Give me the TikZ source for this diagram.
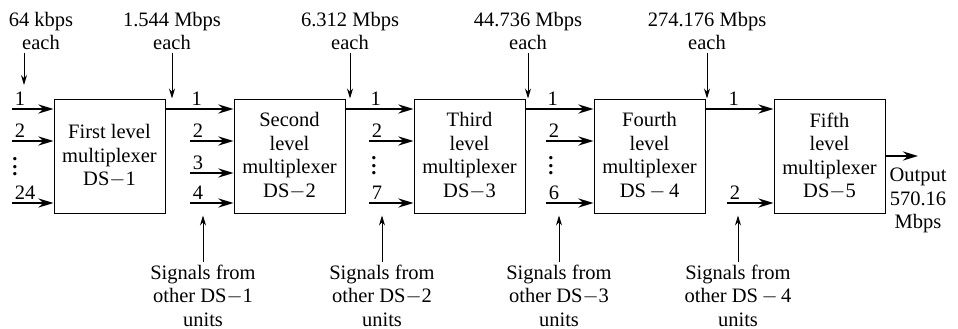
\documentclass[tikz,border=0pt]{standalone}
\usepackage{fontspec}
\setmainfont{Liberation Serif}
\usetikzlibrary{arrows.meta,positioning}
\newcommand{\stackdots}{\vbox{\baselineskip=7.5pt\lineskiplimit=0pt\hbox{.}\hbox{.}\hbox{.}}}

\begin{document}
\begin{tikzpicture}[
  x=1pt,y=-1pt,
  node distance=68pt,
  font=\fontsize{20.5}{23.5}\selectfont,
  mux/.style={draw,line width=1pt,minimum width=111pt,minimum height=114pt,align=center,inner sep=0pt},
  sig/.style={-{Stealth[length=15pt,width=9pt]},line width=2.9pt},
  ptr/.style={-{Stealth[length=10pt,width=6pt]},line width=0.9pt},
  note/.style={align=center,inner sep=0pt,outer sep=3pt},
  num/.style={anchor=base west,inner sep=0pt,xshift=1.5pt,yshift=3.5pt},
  dotcol/.style={inner sep=0pt,font=\bfseries\fontsize{20.5}{23.5}\selectfont}
]
\useasboundingbox (0,0) rectangle (958,329);
\node[mux] (mux1) at (109.5,156) {First level\\multiplexer\\DS$-$1};
\node[mux,right=of mux1] (mux2) {Second\\level\\multiplexer\\DS$-$2};
\node[mux,right=of mux2] (mux3) {Third\\level\\multiplexer\\DS$-$3};
\node[mux,right=of mux3] (mux4) {Fourth\\level\\multiplexer\\DS$\,-\,$4};
\node[mux,right=of mux4] (mux5) {Fifth\\level\\multiplexer\\DS$-$5};

\coordinate (a1) at (12,109); \coordinate (a2) at (12,141); \coordinate (a24) at (12,203);
\coordinate (b2) at (190,141); \coordinate (b3) at (190,173); \coordinate (b4) at (190,203);
\coordinate (c2) at (369,141); \coordinate (c7) at (369,203);
\coordinate (d2) at (546,141); \coordinate (d6) at (546,203);
\coordinate (e2) at (727,203);
\coordinate (out) at (918,156);
\coordinate (t0) at (24,85);

\draw[sig] (a1) node[num]{1} -- (a1 -| mux1.west);
\draw[sig] (a2) node[num]{2} -- (a2 -| mux1.west);
\draw[sig] (a24) node[num]{24} -- (a24 -| mux1.west);
\node[dotcol] (dots1) at (15,167) {\stackdots};

\draw[sig] (mux1.east |- a1) -- (mux2.west |- a1);
\node[num] at (b2 |- a1) {1};
\draw[sig] (b2) node[num]{2} -- (b2 -| mux2.west);
\draw[sig] (b3) node[num]{3} -- (b3 -| mux2.west);
\draw[sig] (b4) node[num]{4} -- (b4 -| mux2.west);

\draw[sig] (mux2.east |- a1) -- (mux3.west |- a1);
\node[num] at (c2 |- a1) {1};
\draw[sig] (c2) node[num]{2} -- (c2 -| mux3.west);
\draw[sig] (c7) node[num]{7} -- (c7 -| mux3.west);
\node[dotcol] (dots3) at (374,166) {\stackdots};

\draw[sig] (mux3.east |- a1) -- (mux4.west |- a1);
\node[num] at (d2 |- a1) {1};
\draw[sig] (d2) node[num]{2} -- (d2 -| mux4.west);
\draw[sig] (d6) node[num]{6} -- (d6 -| mux4.west);
\node[dotcol] (dots4) at (551,166) {\stackdots};

\draw[sig] (mux4.east |- a1) -- (mux5.west |- a1);
\node[num] at (e2 |- a1) {1};
\draw[sig] (e2) node[num]{2} -- (e2 -| mux5.west);

\draw[sig] (mux5.east) -- (out);
\node[note,anchor=north] (outlbl) at (918,165) {Output\\570.16\\Mbps};

\node[note] (r0) at (41,31) {64 kbps\\each};
\node[note] (r1) at (172,31) {1.544 Mbps\\each};
\node[note] (r2) at (350,31) {6.312 Mbps\\each};
\node[note] (r3) at (528,31) {44.736 Mbps\\each};
\node[note] (r4) at (707,31) {274.176 Mbps\\each};
\draw[ptr] (t0 |- r0.south) -- (t0);
\draw[ptr] (r1.south) -- (r1.south |- mux1.north);
\draw[ptr] (r2.south) -- (r2.south |- mux2.north);
\draw[ptr] (r3.south) -- (r3.south |- mux3.north);
\draw[ptr] (r4.south) -- (r4.south |- mux4.north);

\node[note] (s1) at (203,295.5) {Signals from\\other DS$-$1\\units};
\node[note] (s2) at (382,295.5) {Signals from\\other DS$-$2\\units};
\node[note] (s3) at (559,295.5) {Signals from\\other DS$-$3\\units};
\node[note] (s4) at (738,295.5) {Signals from\\other DS$\,-\,$4\\units};
\draw[ptr,shorten >=2pt] (s1.north) -- (s1.north |- mux1.south);
\draw[ptr,shorten >=2pt] (s2.north) -- (s2.north |- mux2.south);
\draw[ptr,shorten >=2pt] (s3.north) -- (s3.north |- mux3.south);
\draw[ptr,shorten >=2pt] (s4.north) -- (s4.north |- mux4.south);
\end{tikzpicture}
\end{document}
